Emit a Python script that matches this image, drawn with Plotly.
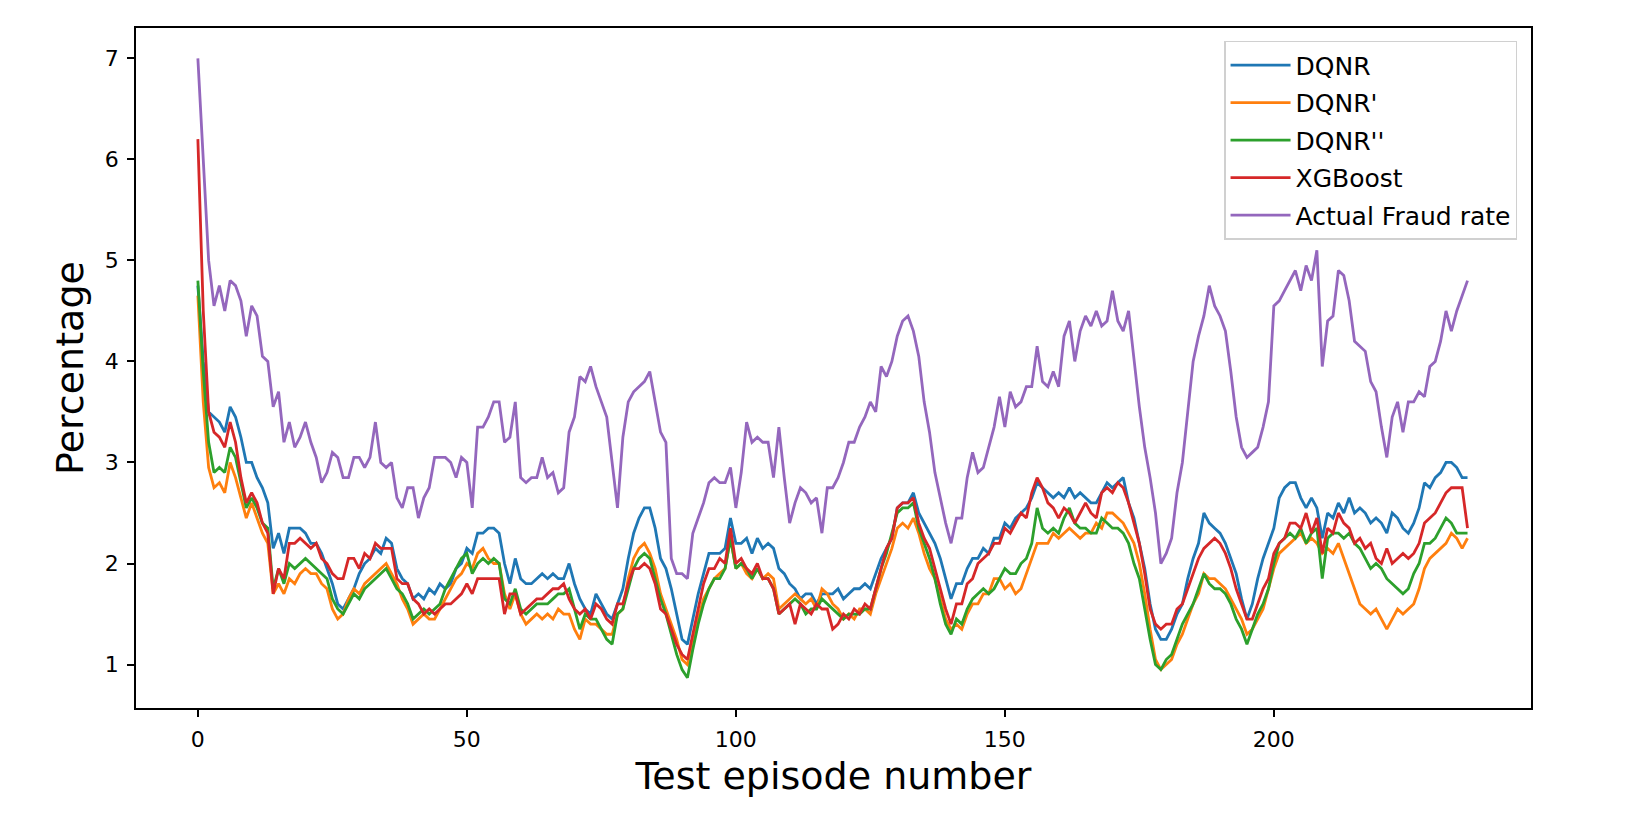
import plotly.graph_objects as go

# episode index 0..236
episodes = list(range(237))

dqnr = [
    4.75, 4.0, 3.5, 3.45, 3.4, 3.3, 3.55, 3.45, 3.25, 3.0,
    3.0, 2.85, 2.75, 2.6, 2.15, 2.3, 2.1, 2.35, 2.35, 2.35,
    2.3, 2.2, 2.2, 2.1, 1.95, 1.8, 1.6, 1.55, 1.65, 1.75,
    1.9, 2.0, 2.05, 2.15, 2.1, 2.25, 2.2, 1.95, 1.85, 1.8,
    1.65, 1.7, 1.65, 1.75, 1.7, 1.8, 1.75, 1.8, 1.95, 2.0,
    2.15, 2.1, 2.3, 2.3, 2.35, 2.35, 2.3, 2.0, 1.8, 2.05,
    1.85, 1.8, 1.8, 1.85, 1.9, 1.85, 1.9, 1.85, 1.85, 2.0,
    1.8, 1.65, 1.55, 1.5, 1.7, 1.6, 1.5, 1.45, 1.6, 1.75,
    2.05, 2.3, 2.45, 2.55, 2.55, 2.35, 2.05, 1.95, 1.75, 1.5,
    1.25, 1.2, 1.45, 1.7, 1.9, 2.1, 2.1, 2.1, 2.15, 2.45,
    2.2, 2.2, 2.25, 2.1, 2.25, 2.15, 2.2, 2.15, 1.95, 1.9,
    1.8, 1.75, 1.65, 1.7, 1.7, 1.6, 1.7, 1.7, 1.7, 1.75,
    1.65, 1.7, 1.75, 1.75, 1.8, 1.75, 1.9, 2.05, 2.15, 2.25,
    2.55, 2.6, 2.6, 2.7, 2.5, 2.4, 2.3, 2.2, 2.05, 1.85,
    1.65, 1.8, 1.8, 1.95, 2.05, 2.05, 2.15, 2.1, 2.25, 2.25,
    2.4, 2.35, 2.45, 2.5, 2.55, 2.65, 2.8, 2.75, 2.7, 2.65,
    2.7, 2.65, 2.75, 2.65, 2.7, 2.65, 2.6, 2.6, 2.7, 2.8,
    2.75, 2.8, 2.85, 2.6, 2.45, 2.2, 1.95, 1.6, 1.35, 1.25,
    1.25, 1.35, 1.5, 1.6, 1.85, 2.05, 2.2, 2.5, 2.4, 2.35,
    2.3, 2.2, 2.05, 1.9, 1.65, 1.45, 1.6, 1.85, 2.05, 2.2,
    2.35, 2.65, 2.75, 2.8, 2.8, 2.65, 2.55, 2.65, 2.55, 2.25,
    2.5, 2.45, 2.6, 2.5, 2.65, 2.5, 2.55, 2.5, 2.4, 2.45,
    2.4, 2.3, 2.5, 2.45, 2.35, 2.3, 2.4, 2.55, 2.8, 2.75,
    2.85, 2.9, 3.0, 3.0, 2.95, 2.85, 2.85,
]

dqnr_1 = [
    4.65, 3.6, 2.95, 2.75, 2.8, 2.7, 3.0, 2.85, 2.65, 2.45,
    2.6, 2.45, 2.3, 2.2, 1.7, 1.8, 1.7, 1.85, 1.8, 1.9,
    1.95, 1.9, 1.9, 1.8, 1.75, 1.55, 1.45, 1.5, 1.65, 1.75,
    1.7, 1.8, 1.85, 1.9, 1.95, 2.0, 1.9, 1.8, 1.65, 1.55,
    1.4, 1.45, 1.5, 1.45, 1.45, 1.55, 1.65, 1.75, 1.85, 1.9,
    2.0, 1.95, 2.1, 2.15, 2.05, 2.0, 2.0, 1.7, 1.55, 1.7,
    1.5, 1.4, 1.45, 1.5, 1.45, 1.5, 1.45, 1.55, 1.5, 1.5,
    1.35, 1.25, 1.45, 1.4, 1.4, 1.35, 1.3, 1.3, 1.5, 1.55,
    1.85, 2.05, 2.15, 2.2, 2.1, 1.95, 1.7, 1.55, 1.4, 1.25,
    1.05, 1.0, 1.2, 1.45, 1.65, 1.75, 1.85, 1.9, 1.95, 2.25,
    1.95, 2.0, 1.9, 1.85, 1.95, 1.85, 1.9, 1.85, 1.55, 1.6,
    1.65, 1.7, 1.65, 1.6, 1.65, 1.55, 1.75, 1.7, 1.6, 1.55,
    1.45, 1.5, 1.45, 1.55, 1.55, 1.5, 1.7, 1.85, 2.0, 2.15,
    2.35, 2.4, 2.35, 2.45, 2.3, 2.1, 1.95, 1.85, 1.65, 1.45,
    1.35, 1.4, 1.35, 1.5, 1.6, 1.6, 1.7, 1.7, 1.85, 1.85,
    1.75, 1.8, 1.7, 1.75, 1.9, 2.05, 2.2, 2.2, 2.2, 2.3,
    2.25, 2.3, 2.35, 2.3, 2.25, 2.3, 2.3, 2.4, 2.35, 2.5,
    2.5, 2.45, 2.4, 2.3, 2.2, 2.0, 1.7, 1.35, 1.05, 0.95,
    1.0, 1.05, 1.2, 1.3, 1.45, 1.6, 1.7, 1.9, 1.85, 1.85,
    1.8, 1.75, 1.65, 1.55, 1.45, 1.3, 1.35, 1.45, 1.55, 1.75,
    1.95, 2.1, 2.15, 2.2, 2.25, 2.3, 2.2, 2.25, 2.2, 2.1,
    2.15, 2.1, 2.2, 2.05, 1.9, 1.75, 1.6, 1.55, 1.5, 1.55,
    1.45, 1.35, 1.45, 1.55, 1.5, 1.55, 1.6, 1.75, 1.95, 2.05,
    2.1, 2.15, 2.2, 2.3, 2.25, 2.15, 2.25,
]

dqnr_2 = [
    4.8, 3.9, 3.2, 2.9, 2.95, 2.9, 3.15, 3.05, 2.8, 2.55,
    2.65, 2.55, 2.4, 2.35, 1.75, 1.95, 1.8, 2.0, 1.95, 2.0,
    2.05, 2.0, 1.95, 1.9, 1.85, 1.65, 1.55, 1.5, 1.6, 1.7,
    1.65, 1.75, 1.8, 1.85, 1.9, 1.95, 1.85, 1.75, 1.7, 1.6,
    1.45, 1.5, 1.55, 1.5, 1.55, 1.6, 1.75, 1.85, 1.95, 2.05,
    2.1, 1.9, 2.0, 2.05, 2.0, 2.05, 2.0, 1.65, 1.6, 1.75,
    1.55, 1.5, 1.55, 1.6, 1.6, 1.6, 1.65, 1.7, 1.7, 1.75,
    1.55, 1.35, 1.5, 1.45, 1.45, 1.35, 1.25, 1.2, 1.5, 1.55,
    1.75, 1.95, 2.05, 2.1, 2.05, 1.85, 1.65, 1.5, 1.3, 1.1,
    0.95, 0.87, 1.15, 1.4, 1.6, 1.75, 1.85, 1.85, 1.95, 2.25,
    1.95, 2.0, 1.95, 1.85, 1.95, 1.85, 1.85, 1.75, 1.5, 1.55,
    1.6, 1.65, 1.6, 1.5, 1.55, 1.55, 1.65, 1.6, 1.55, 1.5,
    1.45, 1.5, 1.5, 1.5, 1.55, 1.55, 1.75, 1.95, 2.1, 2.3,
    2.5, 2.55, 2.55, 2.6, 2.35, 2.2, 2.05, 1.85, 1.6, 1.4,
    1.3, 1.45, 1.4, 1.55, 1.65, 1.7, 1.75, 1.7, 1.75, 1.85,
    1.95, 1.9, 1.9, 2.0, 2.05, 2.2, 2.55, 2.35, 2.3, 2.35,
    2.3, 2.45, 2.55, 2.4, 2.35, 2.35, 2.3, 2.3, 2.45, 2.4,
    2.35, 2.35, 2.3, 2.2, 2.0, 1.85, 1.55, 1.25, 1.0, 0.95,
    1.05, 1.1, 1.25, 1.4, 1.5, 1.6, 1.75, 1.9, 1.8, 1.75,
    1.75, 1.7, 1.6, 1.45, 1.35, 1.2, 1.35, 1.5, 1.6, 1.75,
    2.0, 2.2, 2.25, 2.3, 2.25, 2.35, 2.2, 2.3, 2.35, 1.85,
    2.25, 2.3, 2.3, 2.25, 2.3, 2.2, 2.15, 2.05, 1.95, 2.0,
    1.95, 1.85, 1.8, 1.75, 1.7, 1.75, 1.9, 2.0, 2.2, 2.2,
    2.25, 2.35, 2.45, 2.4, 2.3, 2.3, 2.3,
]

xgboost = [
    6.2, 4.5, 3.5, 3.3, 3.25, 3.15, 3.4, 3.2, 2.85, 2.6,
    2.7, 2.6, 2.4, 2.3, 1.7, 1.95, 1.85, 2.2, 2.2, 2.25,
    2.2, 2.15, 2.2, 2.05, 2.0, 1.9, 1.85, 1.85, 2.05, 2.05,
    1.95, 2.1, 2.05, 2.2, 2.15, 2.15, 2.15, 1.85, 1.8, 1.8,
    1.65, 1.6, 1.5, 1.55, 1.5, 1.55, 1.6, 1.6, 1.65, 1.7,
    1.8, 1.7, 1.85, 1.85, 1.85, 1.85, 1.85, 1.5, 1.7, 1.7,
    1.5, 1.55, 1.6, 1.65, 1.65, 1.7, 1.75, 1.75, 1.8, 1.65,
    1.55, 1.5, 1.55, 1.45, 1.6, 1.55, 1.45, 1.4, 1.6, 1.6,
    1.8, 1.95, 1.95, 2.0, 1.95, 1.8, 1.55, 1.5, 1.35, 1.2,
    1.1, 1.05, 1.3, 1.55, 1.8, 1.95, 1.95, 2.05, 2.0, 2.35,
    2.0, 2.05, 1.95, 1.9, 2.0, 1.85, 1.85, 1.75, 1.5, 1.55,
    1.6, 1.4, 1.6, 1.55, 1.5, 1.6, 1.55, 1.55, 1.35, 1.4,
    1.5, 1.45, 1.55, 1.5, 1.6, 1.55, 1.75, 1.95, 2.15, 2.25,
    2.55, 2.6, 2.6, 2.65, 2.4, 2.25, 2.15, 1.95, 1.75, 1.55,
    1.4, 1.6, 1.6, 1.8, 1.85, 2.0, 2.05, 2.1, 2.2, 2.2,
    2.35, 2.3, 2.4, 2.5, 2.45, 2.7, 2.85, 2.75, 2.6, 2.55,
    2.45, 2.55, 2.5, 2.4, 2.5, 2.6, 2.5, 2.45, 2.7, 2.75,
    2.7, 2.8, 2.75, 2.6, 2.4, 2.2, 1.9, 1.55, 1.4, 1.35,
    1.4, 1.4, 1.55, 1.6, 1.75, 1.9, 2.05, 2.15, 2.2, 2.25,
    2.2, 2.1, 1.95, 1.75, 1.6, 1.45, 1.45, 1.6, 1.75, 1.85,
    2.1, 2.2, 2.25, 2.4, 2.4, 2.35, 2.5, 2.3, 2.45, 2.1,
    2.35, 2.3, 2.5, 2.4, 2.35, 2.2, 2.25, 2.15, 2.2, 2.05,
    2.0, 2.15, 2.0, 2.05, 2.1, 2.05, 2.1, 2.2, 2.4, 2.45,
    2.5, 2.6, 2.7, 2.75, 2.75, 2.75, 2.35,
]

actual_fraud = [
    7.0, 6.0, 5.0, 4.55, 4.75, 4.5, 4.8, 4.75, 4.6, 4.25,
    4.55, 4.45, 4.05, 4.0, 3.55, 3.7, 3.2, 3.4, 3.15, 3.25,
    3.4, 3.2, 3.05, 2.8, 2.9, 3.1, 3.05, 2.85, 2.85, 3.05,
    3.05, 2.95, 3.05, 3.4, 3.0, 2.95, 3.0, 2.65, 2.55, 2.75,
    2.75, 2.45, 2.65, 2.75, 3.05, 3.05, 3.05, 3.0, 2.85, 3.05,
    3.0, 2.55, 3.35, 3.35, 3.45, 3.6, 3.6, 3.2, 3.25, 3.6,
    2.85, 2.8, 2.85, 2.85, 3.05, 2.85, 2.9, 2.7, 2.75, 3.3,
    3.45, 3.85, 3.8, 3.95, 3.75, 3.6, 3.45, 3.0, 2.55, 3.25,
    3.6, 3.7, 3.75, 3.8, 3.9, 3.6, 3.3, 3.2, 2.05, 1.9,
    1.9, 1.85, 2.3, 2.45, 2.6, 2.8, 2.85, 2.8, 2.8, 2.95,
    2.55, 2.9, 3.4, 3.2, 3.25, 3.2, 3.2, 2.85, 3.35, 2.85,
    2.4, 2.6, 2.75, 2.7, 2.6, 2.65, 2.3, 2.75, 2.75, 2.85,
    3.0, 3.2, 3.2, 3.35, 3.45, 3.6, 3.5, 3.95, 3.85, 4.0,
    4.25, 4.4, 4.45, 4.3, 4.05, 3.6, 3.3, 2.9, 2.65, 2.4,
    2.2, 2.45, 2.45, 2.85, 3.1, 2.9, 2.95, 3.15, 3.35, 3.65,
    3.35, 3.7, 3.55, 3.6, 3.75, 3.75, 4.15, 3.8, 3.75, 3.9,
    3.75, 4.25, 4.4, 4.0, 4.3, 4.45, 4.35, 4.5, 4.35, 4.4,
    4.7, 4.4, 4.3, 4.5, 4.0, 3.55, 3.15, 2.85, 2.5, 2.0,
    2.1, 2.25, 2.7, 3.0, 3.5, 4.0, 4.25, 4.45, 4.75, 4.55,
    4.45, 4.3, 3.9, 3.45, 3.15, 3.05, 3.1, 3.15, 3.35, 3.6,
    4.55, 4.6, 4.7, 4.8, 4.9, 4.7, 4.95, 4.8, 5.1, 3.95,
    4.4, 4.45, 4.9, 4.85, 4.6, 4.2, 4.15, 4.1, 3.8, 3.7,
    3.35, 3.05, 3.45, 3.6, 3.3, 3.6, 3.6, 3.7, 3.65, 3.95,
    4.0, 4.2, 4.5, 4.3, 4.5, 4.65, 4.8,
]

series = [
    ("DQNR", dqnr, "#1f77b4"),
    ("DQNR'", dqnr_1, "#ff7f0e"),
    ("DQNR''", dqnr_2, "#2ca02c"),
    ("XGBoost", xgboost, "#d62728"),
    ("Actual Fraud rate", actual_fraud, "#9467bd"),
]

fig = go.Figure()
for name, values, color in series:
    fig.add_trace(go.Scatter(
        x=episodes, y=values, name=name, mode="lines",
        legendgroup=name, line=dict(color=color, width=2.8),
    ))

axis_style = dict(
    showgrid=False, zeroline=False, showline=True, mirror=True,
    linecolor="black", linewidth=1.6, ticks="outside", ticklen=7,
    tickwidth=1.6, tickcolor="black", ticklabelstandoff=4,
    tickfont=dict(family="DejaVu Sans", size=22, color="black"),
)

fig.update_layout(
    width=1649, height=828,
    margin=dict(l=128, r=126, t=20, b=128),
    paper_bgcolor="white", plot_bgcolor="white",
    font=dict(family="DejaVu Sans", color="black"),
    xaxis=dict(
        range=[-11.5, 247.8], tickvals=[0, 50, 100, 150, 200],
        title=dict(text="Test episode number", font=dict(size=38), standoff=11),
        **axis_style,
    ),
    yaxis=dict(
        range=[0.57, 7.3], tickvals=[1, 2, 3, 4, 5, 6, 7],
        title=dict(text="Percentage", font=dict(size=38), standoff=9),
        **axis_style,
    ),
    legend=dict(
        x=0.99, y=0.981, xanchor="right", yanchor="top",
        bgcolor="white", bordercolor="#d0d0d0", borderwidth=1.5,
        font=dict(family="DejaVu Sans", size=25, color="black"),
        tracegroupgap=2, itemwidth=60,
    ),
    showlegend=True,
)

fig.write_html("out.html")
